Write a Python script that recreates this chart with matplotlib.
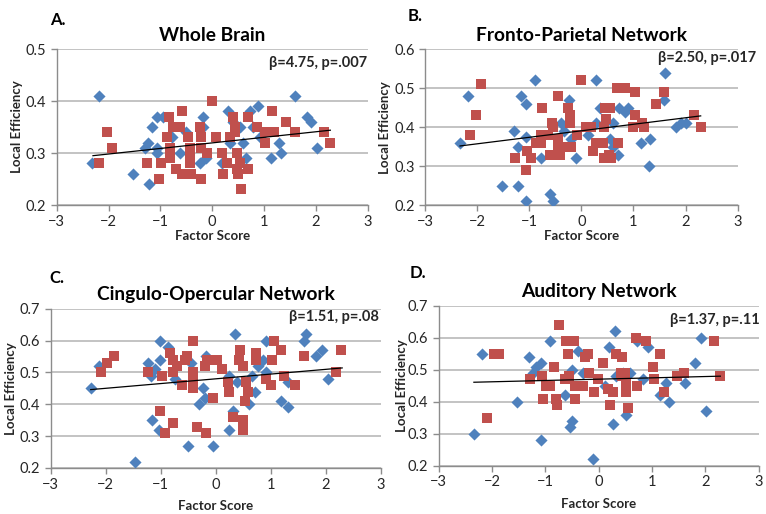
import numpy as np
import matplotlib.pyplot as plt

plt.rcParams['font.family'] = ['Lato', 'DejaVu Sans']

blue = '#4F81BD'
red = '#C0504D'

# Panel A - Whole Brain
a_blue_x = [-2.32, -2.18, -1.52, -1.21, -1.17, -1.23, -1.30, -1.07, -1.07, -1.07, -0.95, -0.78, -0.62, -0.50,
            -0.17, -0.24, -0.11, -0.17, 0.18, 0.34, 0.31, 0.40, 0.53, 0.60, 0.66, 0.73, 0.89, 0.79, 0.92,
            1.14, 1.29, 1.32, 1.59, 1.82, 1.91, 2.03]
a_blue_y = [0.28, 0.41, 0.26, 0.24, 0.35, 0.32, 0.31, 0.37, 0.30, 0.31, 0.37, 0.33, 0.30, 0.34,
            0.37, 0.28, 0.29, 0.35, 0.28, 0.32, 0.38, 0.36, 0.35, 0.32, 0.29, 0.38, 0.39, 0.35, 0.33,
            0.29, 0.32, 0.30, 0.41, 0.37, 0.36, 0.31]
a_red_x = [-2.18, -2.03, -1.93, -1.26, -1.02, -0.98, -0.88, -0.83, -0.75, -0.82, -0.82, -0.69, -0.59, -0.62,
           -0.58, -0.46, -0.43, -0.43, -0.43, -0.40, -0.24, -0.21, -0.21, -0.22, -0.10, -0.01, 0.08, 0.18,
           0.21, 0.28, 0.34, 0.40, 0.44, 0.44, 0.47, 0.47, 0.50, 0.53, 0.55, 0.69, 0.69, 0.87, 1.01, 1.01,
           1.15, 1.20, 1.43, 1.59, 2.15, 2.27]
a_red_y = [0.28, 0.34, 0.31, 0.28, 0.25, 0.28, 0.33, 0.37, 0.35, 0.31, 0.29, 0.27, 0.38, 0.35,
           0.26, 0.33, 0.31, 0.29, 0.28, 0.26, 0.35, 0.33, 0.31, 0.25, 0.30, 0.40, 0.33, 0.30,
           0.26, 0.28, 0.33, 0.37, 0.35, 0.34, 0.30, 0.27, 0.26, 0.28, 0.23, 0.37, 0.27, 0.35, 0.34, 0.32,
           0.38, 0.34, 0.36, 0.34, 0.34, 0.32]
a_trend_x = [-2.30, 2.28]
a_trend_y = [0.295, 0.344]

# Panel B - Fronto-Parietal Network
b_blue_x = [-2.33, -2.18, -1.53, -1.29, -1.22, -1.21, -1.16, -1.06, -1.06, -1.06, -0.90, -0.77, -0.61, -0.55,
            -0.39, -0.33, -0.23, -0.20, -0.10, 0.12, 0.28, 0.28, 0.35, 0.54, 0.60, 0.60, 0.70, 0.73, 0.83,
            0.89, 1.15, 1.31, 1.29, 1.59, 1.61, 1.82, 1.91, 2.01]
b_blue_y = [0.36, 0.48, 0.25, 0.39, 0.35, 0.25, 0.48, 0.46, 0.21, 0.375, 0.52, 0.32, 0.23, 0.21,
            0.41, 0.39, 0.47, 0.37, 0.32, 0.38, 0.52, 0.41, 0.45, 0.37, 0.41, 0.35, 0.33, 0.45, 0.44,
            0.45, 0.36, 0.37, 0.30, 0.47, 0.54, 0.40, 0.41, 0.41]
b_red_x = [-2.14, -2.03, -1.92, -1.27, -1.05, -1.06, -0.97, -0.87, -0.76, -0.77, -0.77, -0.65, -0.61, -0.56,
           -0.55, -0.44, -0.45, -0.45, -0.42, -0.36, -0.25, -0.21, -0.21, -0.20, -0.08, -0.01, 0.09, 0.19,
           0.22, 0.28, 0.41, 0.44, 0.46, 0.47, 0.44, 0.54, 0.53, 0.56, 0.70, 0.68, 0.84, 1.02, 1.02, 0.99,
           1.17, 1.21, 1.43, 1.59, 2.16, 2.29]
b_red_y = [0.38, 0.43, 0.51, 0.32, 0.34, 0.29, 0.32, 0.36, 0.45, 0.38, 0.36, 0.38, 0.33, 0.41,
           0.40, 0.48, 0.37, 0.35, 0.33, 0.35, 0.45, 0.43, 0.41, 0.35, 0.38, 0.52, 0.40, 0.40,
           0.34, 0.36, 0.36, 0.32, 0.45, 0.42, 0.40, 0.45, 0.33, 0.32, 0.36, 0.50, 0.50, 0.49, 0.43, 0.40,
           0.41, 0.40, 0.46, 0.49, 0.43, 0.40]
b_trend_x = [-2.33, 2.29]
b_trend_y = [0.352, 0.429]

# Panel C - Cingulo-Opercular Network
c_blue_x = [-2.27, -2.12, -1.46, -1.23, -1.17, -1.10, -1.15, -1.01, -1.01, -1.03, -0.86, -0.74, -0.50, -0.44,
            -0.30, -0.23, -0.20, -0.18, -0.05, 0.25, 0.31, 0.35, 0.25, 0.39, 0.61, 0.66, 0.72, 0.77, 0.86,
            0.92, 0.92, 1.18, 1.32, 1.32, 1.60, 1.64, 1.83, 1.94, 2.05]
c_blue_y = [0.45, 0.52, 0.22, 0.53, 0.49, 0.51, 0.35, 0.60, 0.54, 0.32, 0.58, 0.48, 0.27, 0.53,
            0.40, 0.45, 0.42, 0.55, 0.27, 0.49, 0.38, 0.62, 0.32, 0.47, 0.40, 0.49, 0.44, 0.52, 0.54,
            0.50, 0.60, 0.41, 0.39, 0.47, 0.60, 0.62, 0.55, 0.57, 0.48]
c_red_x = [-2.09, -1.97, -1.85, -1.23, -1.01, -0.97, -0.92, -0.83, -0.77, -0.77, -0.77, -0.71, -0.62, -0.56,
           -0.52, -0.41, -0.41, -0.41, -0.41, -0.34, -0.20, -0.16, -0.17, -0.05, 0.03, 0.12, 0.22, 0.25,
           0.32, 0.43, 0.44, 0.50, 0.50, 0.50, 0.53, 0.59, 0.56, 0.73, 0.74, 0.92, 1.01, 1.03, 1.06, 1.18,
           1.24, 1.45, 1.60, 2.18, 2.28]
c_red_y = [0.50, 0.53, 0.55, 0.50, 0.38, 0.49, 0.31, 0.56, 0.54, 0.50, 0.34, 0.52, 0.46, 0.54,
           0.55, 0.60, 0.50, 0.48, 0.45, 0.33, 0.52, 0.54, 0.31, 0.42, 0.54, 0.51, 0.47, 0.44,
           0.36, 0.54, 0.57, 0.52, 0.35, 0.32, 0.41, 0.44, 0.47, 0.56, 0.54, 0.48, 0.46, 0.54, 0.60, 0.57,
           0.49, 0.46, 0.55, 0.50, 0.57]
c_trend_x = [-2.27, 2.30]
c_trend_y = [0.446, 0.514]

# Panel D - Auditory Network
d_blue_x = [-2.34, -2.19, -1.53, -1.31, -1.23, -1.17, -1.08, -1.08, -0.92, -0.64, -0.54, -0.51, -0.51, -0.39,
            -0.29, -0.11, 0.11, 0.19, 0.26, 0.30, 0.33, 0.46, 0.58, 0.52, 0.71, 0.83, 0.93, 1.14, 1.27,
            1.31, 1.61, 1.81, 1.91, 2.02]
d_blue_y = [0.30, 0.55, 0.40, 0.54, 0.49, 0.51, 0.52, 0.28, 0.59, 0.42, 0.32, 0.34, 0.50, 0.56,
            0.49, 0.22, 0.45, 0.57, 0.33, 0.62, 0.48, 0.49, 0.49, 0.36, 0.59, 0.47, 0.57, 0.42, 0.46,
            0.40, 0.46, 0.52, 0.60, 0.37]
d_red_x = [-2.10, -1.97, -1.86, -1.28, -1.06, -1.04, -0.98, -0.92, -0.84, -0.81, -0.79, -0.75, -0.64, -0.62,
           -0.58, -0.56, -0.46, -0.45, -0.45, -0.29, -0.26, -0.20, -0.19, -0.09, -0.01, 0.08, 0.17, 0.21,
           0.27, 0.33, 0.43, 0.41, 0.44, 0.49, 0.52, 0.51, 0.55, 0.69, 0.71, 0.88, 1.01, 1.04, 1.14, 1.22,
           1.46, 1.60, 2.16, 2.28]
d_red_y = [0.35, 0.55, 0.55, 0.47, 0.48, 0.41, 0.45, 0.45, 0.51, 0.41, 0.39, 0.64, 0.47, 0.59,
           0.55, 0.48, 0.59, 0.45, 0.41, 0.45, 0.54, 0.55, 0.49, 0.43, 0.47, 0.52, 0.44, 0.39,
           0.43, 0.55, 0.54, 0.49, 0.48, 0.49, 0.46, 0.43, 0.38, 0.60, 0.45, 0.59, 0.51, 0.47, 0.55, 0.43,
           0.48, 0.49, 0.59, 0.48]
d_trend_x = [-2.34, 2.28]
d_trend_y = [0.461, 0.480]

panels = [
    dict(letter='A.', title='Whole Brain', stat='β=4.75, p=.007', ylim=(0.2, 0.5),
         bx=a_blue_x, by=a_blue_y, rx=a_red_x, ry=a_red_y, tx=a_trend_x, ty=a_trend_y,
         rect=[0.074, 0.601, 0.406, 0.3035], letter_xy=(0.066, 0.962), stat_xy=(0.479, 0.878),
         xpad=1, ypad=2),
    dict(letter='B.', title='Fronto-Parietal Network', stat='β=2.50, p=.017', ylim=(0.2, 0.6),
         bx=b_blue_x, by=b_blue_y, rx=b_red_x, ry=b_red_y, tx=b_trend_x, ty=b_trend_y,
         rect=[0.555, 0.6005, 0.408, 0.304], letter_xy=(0.532, 0.968), stat_xy=(0.987, 0.887),
         xpad=1, ypad=2),
    dict(letter='C.', title='Cingulo-Opercular Network', stat='β=1.51, p=.08', ylim=(0.2, 0.7),
         bx=c_blue_x, by=c_blue_y, rx=c_red_x, ry=c_red_y, tx=c_trend_x, ty=c_trend_y,
         rect=[0.066, 0.0895, 0.431, 0.310], letter_xy=(0.064, 0.460), stat_xy=(0.494, 0.383),
         xpad=6, ypad=2),
    dict(letter='D.', title='Auditory Network', stat='β=1.37, p=.11', ylim=(0.2, 0.7),
         bx=d_blue_x, by=d_blue_y, rx=d_red_x, ry=d_red_y, tx=d_trend_x, ty=d_trend_y,
         rect=[0.5727, 0.094, 0.4178, 0.311], letter_xy=(0.535, 0.468), stat_xy=(0.992, 0.377),
         xpad=6, ypad=0),
]

fig = plt.figure(figsize=(7.66, 5.14), dpi=100)

for p in panels:
    ax = fig.add_axes(p['rect'])
    ax.scatter(p['bx'], p['by'], marker='D', s=38, color=blue, linewidths=0, zorder=3)
    ax.scatter(p['rx'], p['ry'], marker='s', s=62, color=red, linewidths=0, zorder=4)
    ax.plot(p['tx'], p['ty'], color='black', lw=0.9, zorder=5)

    ax.set_xlim(-3, 3)
    ax.set_ylim(*p['ylim'])
    yt = np.arange(p['ylim'][0], p['ylim'][1] + 0.001, 0.1)
    ax.set_xticks(np.arange(-3, 4, 1))
    ax.set_yticks(yt)
    ax.set_yticklabels([f'{v:.1f}' for v in yt])
    ax.grid(axis='y', color='#b3b3b3', lw=1.1, zorder=0)
    ax.set_axisbelow(True)
    for s in ['top', 'right']:
        ax.spines[s].set_visible(False)
    for s in ['left', 'bottom']:
        ax.spines[s].set_color('#8c8c8c')
        ax.spines[s].set_linewidth(1.0)
    ax.tick_params(axis='both', colors='#8c8c8c', labelcolor='#262626', labelsize=10.5, length=4, width=1)
    ax.tick_params(axis='x', pad=3)
    ax.set_xlabel('Factor Score', fontsize=9.5, fontweight='bold', color='#262626', labelpad=p['xpad'])
    ax.set_ylabel('Local Efficiency', fontsize=9.5, fontweight='bold', color='#262626', labelpad=p['ypad'])
    ax.set_title(p['title'], fontsize=13.8, fontweight='bold', pad=6)

    fig.text(p['letter_xy'][0], p['letter_xy'][1], p['letter'], fontsize=12, fontweight='bold',
             ha='left', va='center')
    fig.text(p['stat_xy'][0], p['stat_xy'][1], p['stat'], fontsize=10.5, fontweight='bold',
             ha='right', va='center', color='#262626')

fig.savefig('out.png', dpi=100)
